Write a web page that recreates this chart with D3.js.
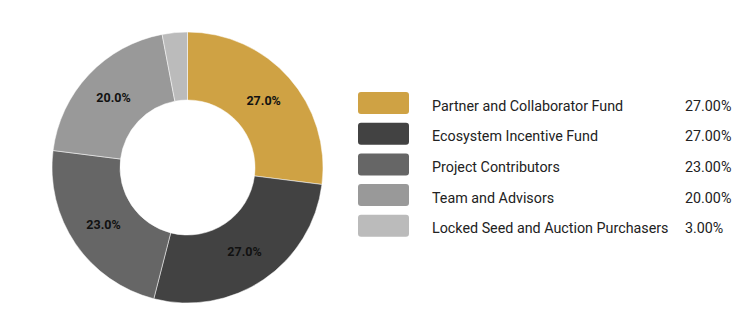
<!DOCTYPE html>
<html><head><meta charset="utf-8">
<script src="https://cdn.jsdelivr.net/npm/d3@7"></script>
<style>body{margin:0;background:#fff}svg{display:block}</style>
</head><body>
<svg id="c" width="750" height="336"></svg>
<script>
const categories = ["Partner and Collaborator Fund","Ecosystem Incentive Fund","Project Contributors","Team and Advisors","Locked Seed and Auction Purchasers"];
const values = [27, 27, 23, 20, 3];
const colors = ["#cfa244","#424242","#666666","#999999","#bbbbbb"];

const svg = d3.select("#c");
const cx = 187.5, cy = 167.5, rOuter = 135.5, rInner = 67.5;
const pie = d3.pie().sort(null).value(d => d)(values);
const arc = d3.arc().innerRadius(rInner).outerRadius(rOuter);
const g = svg.append("g").attr("transform", `translate(${cx},${cy})`);
g.selectAll("path").data(pie).join("path")
  .attr("d", arc).attr("fill", (d,i) => colors[i])
  .attr("stroke", "#fff").attr("stroke-width", 0.5);
g.selectAll("text").data(pie.filter(d => d.data >= 5)).join("text")
  .attr("transform", d => `translate(${arc.centroid(d)})`)
  .attr("text-anchor", "middle").attr("dy", "0.35em")
  .style("font-family", "Roboto, Arial, sans-serif").style("font-size", "12.5px").style("font-weight", "bold")
  .attr("fill", "#111")
  .text(d => d.data.toFixed(1) + "%");

const y = d3.scaleBand().domain(categories).range([92, 92 + 5 * 30.7]).paddingInner(0);
const leg = svg.append("g");
const rows = leg.selectAll("g").data(categories).join("g")
  .attr("transform", d => `translate(0,${y(d)})`);
rows.append("rect").attr("x", 358).attr("y", 0).attr("width", 51).attr("height", 22)
  .attr("rx", 3).attr("fill", (d,i) => colors[i]);
rows.append("text").attr("x", 432).attr("y", 18.5)
  .style("font-family", "Roboto, Arial, sans-serif").style("font-size", "14.3px").attr("fill", "#222")
  .text(d => d);
rows.append("text").attr("x", 685).attr("y", 18.5)
  .style("font-family", "Roboto, Arial, sans-serif").style("font-size", "14.3px").attr("fill", "#222")
  .text((d,i) => values[i].toFixed(2) + "%");
</script>
</body></html>
